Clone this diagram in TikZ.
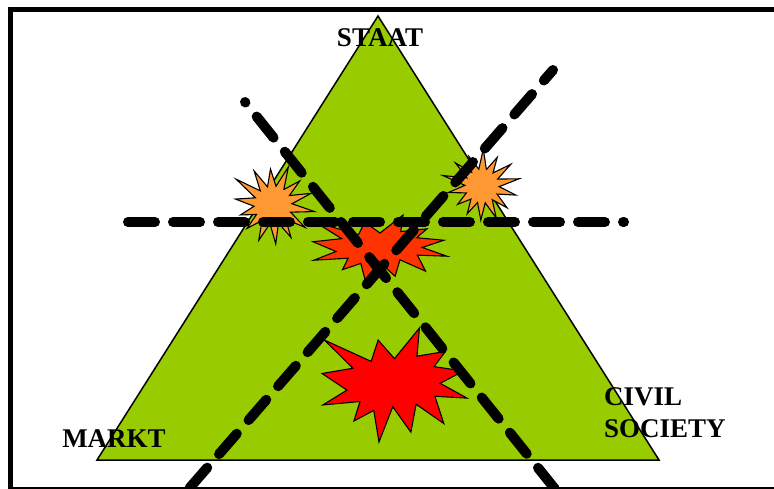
\documentclass[tikz,border=0pt]{standalone}
\usepackage{fontspec}
\setmainfont{Liberation Serif}
\usepackage{xcolor}
\usetikzlibrary{positioning}

\definecolor{fieldgreen}{HTML}{99CC00}
\definecolor{burstorange}{HTML}{FF9933}
\definecolor{burstscarlet}{HTML}{FF3300}
\definecolor{burstred}{HTML}{FF0000}

% explosion shape in a box: left, top, width, height, colour
\newcommand{\burstbig}[5]{%
  \begin{scope}[shift={(#1,#2)}, x=#3pt, y=-#4pt]
    \draw[burst, fill=#5] (.500,.269) -- (.672,0) -- (.655,.247) -- (.851,.206)
      -- (.773,.339) -- (.977,.377) -- (.815,.485) -- (1,.615) -- (.779,.599)
      -- (.840,.838) -- (.649,.669) -- (.613,.914) -- (.488,.691) -- (.393,1)
      -- (.357,.723) -- (.220,.816) -- (.262,.645) -- (.006,.675) -- (.172,.545)
      -- (0,.399) -- (.214,.353) -- (.017,.106) -- (.339,.293) -- (.387,.106) -- cycle;
  \end{scope}}
% small star: centre x, centre y, scale, turn
\newcommand{\burststar}[4]{%
  \begin{scope}[shift={(#1,#2)}, yscale=-1, scale=#3, rotate=#4]
    \draw[burst, fill=burstorange] (55.15:19)
      \foreach \a/\r in {68/41, 94/36, 119/39, 145/45, 171/38, 197/34, 222/35,
                         248/38, 274/39, 299/37, 325/39, 351/42, 17/40, 42/36}
      { -- (\a:\r) -- ({\a+12.85}:19) } -- cycle;
  \end{scope}}

\begin{document}
\begin{tikzpicture}[
    x=1pt, y=-1pt,
    label/.style={font=\fontsize{27}{32}\selectfont\bfseries, inner sep=0pt},
    burst/.style={draw, line width=1.1pt, line join=miter},
    cutline/.style={line width=10pt, line cap=round, dash pattern=on 27pt off 18pt}
  ]
    \useasboundingbox (0,0) rectangle (774,489);
    \clip (0,0) rectangle (774,489);
    \draw[line width=4.5pt] (10.5,9.5) rectangle (790,489.5);

    % triangle
    \coordinate (apex) at (378,16);
    \coordinate (left) at (97,460);
    \coordinate (right) at (659,460);
    \draw[line width=1.5pt, line join=miter, fill=fieldgreen] (apex) -- (right) -- (left) -- cycle;

    % explosions
    \burststar{273}{205}{1}{0}
    \burststar{482}{186}{0.9}{-20}
    \burstbig{313}{215}{134}{67}{burstscarlet}
    \burstbig{322}{328}{145}{114}{burstred}

    % dashed lines
    \coordinate (h0) at (128,222);
    \coordinate (h1) at (624,222);
    \coordinate (a0) at (583,524);
    \coordinate (a1) at (245,102);
    \coordinate (b0) at (160,522);
    \coordinate (b1) at (553,70);
    \draw[cutline] (h0) -- (h1);
    \draw[cutline] (a0) -- (a1);
    \draw[cutline] (b0) -- (b1);

    % corner labels
    \node[label, anchor=base] (staat) at (380,47) {STAAT};
    \node[label, anchor=base] (markt) at (114,447) {MARKT};
    \node[label, anchor=base west] (civil) at (604,405) {CIVIL};
    \node[label, below=32pt of civil.base west, anchor=base west] (society) {SOCIETY};
\end{tikzpicture}
\end{document}
